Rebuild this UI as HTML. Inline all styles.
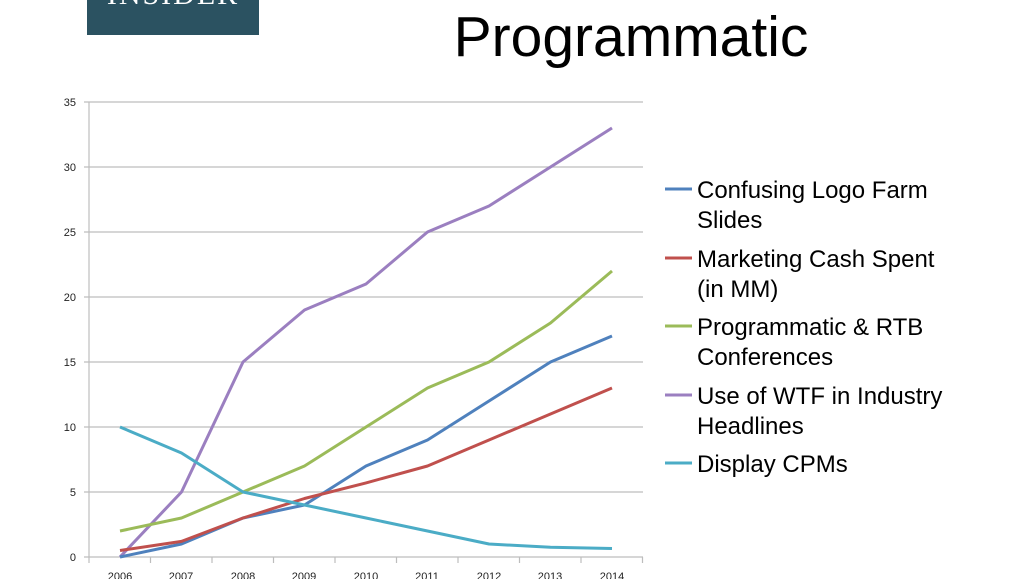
<!DOCTYPE html><html><head><style>body{margin:0;background:#fff;width:1030px;height:579px;overflow:hidden}</style></head><body>
<svg width="1030" height="579" xmlns="http://www.w3.org/2000/svg" font-family="Liberation Sans, sans-serif">
<rect x="87" y="0" width="172" height="35" fill="#2b5261"/>
<text x="173" y="4" font-family="Liberation Serif, serif" font-size="30" fill="#fff" text-anchor="middle" letter-spacing="2">INSIDER</text>
<text x="631" y="56" font-size="57" text-anchor="middle" fill="#000">Programmatic</text>
<g stroke="#bdbdbd" stroke-width="1.2">
<line x1="84" y1="102" x2="643" y2="102"/><line x1="84" y1="167" x2="643" y2="167"/><line x1="84" y1="232" x2="643" y2="232"/><line x1="84" y1="297" x2="643" y2="297"/><line x1="84" y1="362" x2="643" y2="362"/><line x1="84" y1="427" x2="643" y2="427"/><line x1="84" y1="492" x2="643" y2="492"/><line x1="84" y1="557" x2="643" y2="557"/>
<line x1="89" y1="102" x2="89" y2="557"/>
<line x1="150.5" y1="557" x2="150.5" y2="563"/><line x1="212" y1="557" x2="212" y2="563"/><line x1="273.5" y1="557" x2="273.5" y2="563"/><line x1="335" y1="557" x2="335" y2="563"/><line x1="396.5" y1="557" x2="396.5" y2="563"/><line x1="458" y1="557" x2="458" y2="563"/><line x1="519.5" y1="557" x2="519.5" y2="563"/><line x1="581" y1="557" x2="581" y2="563"/><line x1="642.5" y1="557" x2="642.5" y2="563"/><line x1="89" y1="557" x2="89" y2="563"/>
</g>
<g font-size="11" fill="#222" text-anchor="end">
<text x="76" y="106">35</text><text x="76" y="171">30</text><text x="76" y="236">25</text><text x="76" y="301">20</text><text x="76" y="366">15</text><text x="76" y="431">10</text><text x="76" y="496">5</text><text x="76" y="561">0</text>
</g>
<g font-size="11" fill="#222" text-anchor="middle">
<text x="120" y="580">2006</text><text x="181" y="580">2007</text><text x="243" y="580">2008</text><text x="304" y="580">2009</text><text x="366" y="580">2010</text><text x="427" y="580">2011</text><text x="489" y="580">2012</text><text x="550" y="580">2013</text><text x="612" y="580">2014</text>
</g>
<g fill="none" stroke-width="3" stroke-linejoin="round">
<polyline stroke="#9b7fc0" points="120,557 181.5,492 243,362 304.5,310 366,284 427.5,232 489,206 550.5,167 612,128"/>
<polyline stroke="#9bbb59" points="120,531 181.5,518 243,492 304.5,466 366,427 427.5,388 489,362 550.5,323 612,271"/>
<polyline stroke="#4f81bd" points="120,557 181.5,544 243,518 304.5,505 366,466 427.5,440 489,401 550.5,362 612,336"/>
<polyline stroke="#c0504d" points="120,550.5 181.5,541.4 243,518 304.5,498.5 366,482.9 427.5,466 489,440 550.5,414 612,388"/>
<polyline stroke="#4bacc6" points="120,427 181.5,453 243,492 304.5,505 366,518 427.5,531 489,544 550.5,547.3 612,548.5"/>
</g>
<g stroke-width="3">
<line x1="665" y1="189" x2="692" y2="189" stroke="#4f81bd"/>
<line x1="665" y1="258" x2="692" y2="258" stroke="#c0504d"/>
<line x1="665" y1="326" x2="692" y2="326" stroke="#9bbb59"/>
<line x1="665" y1="395" x2="692" y2="395" stroke="#9b7fc0"/>
<line x1="665" y1="463" x2="692" y2="463" stroke="#4bacc6"/>
</g>
<g font-size="24" fill="#000">
<text x="697" y="198">Confusing Logo Farm</text><text x="697" y="228">Slides</text>
<text x="697" y="267">Marketing Cash Spent</text><text x="697" y="297">(in MM)</text>
<text x="697" y="335">Programmatic &amp; RTB</text><text x="697" y="365">Conferences</text>
<text x="697" y="404">Use of WTF in Industry</text><text x="697" y="434">Headlines</text>
<text x="697" y="472">Display CPMs</text>
</g>
</svg></body></html>
